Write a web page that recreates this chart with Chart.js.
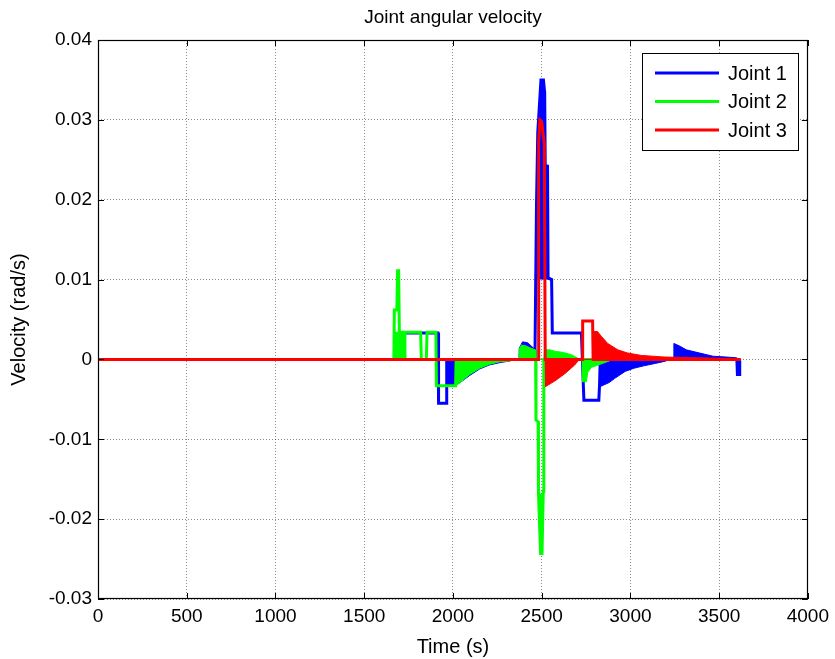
<!DOCTYPE html>
<html>
<head>
<meta charset="utf-8">
<title>Joint angular velocity</title>
<script src="https://cdn.jsdelivr.net/npm/chart.js@4.4.1/dist/chart.umd.min.js"></script>
<style>
  html, body { margin: 0; padding: 0; background: #fff; }
</style>
</head>
<body>
<canvas id="velocityChart" width="835" height="659"></canvas>
<script>
// axis ticks
const timeTicks = [0, 500, 1000, 1500, 2000, 2500, 3000, 3500, 4000];
const velocityTicks = [-0.03, -0.02, -0.01, 0, 0.01, 0.02, 0.03, 0.04];

const chartTitle = 'Joint angular velocity';
const seriesNames = ['Joint 1', 'Joint 2', 'Joint 3'];
const seriesColors = ['#0000ff', '#00ff00', '#ff0000'];

// main traces, [time (s), velocity (rad/s)]
const joint1Trace = [
  [0, 0], [1698, 0], [1700, 0.0033], [1916, 0.0033], [1919, -0.0055], [1962, -0.0055],
  [1965, 0], [2462, 0], [2466, 0.0088], [2471, 0.0195], [2478, 0.0284], [2496, 0.0350],
  [2510, 0.0350], [2517, 0.0334], [2520, 0.0243], [2533, 0.0242], [2536, 0.0102],
  [2556, 0.0100], [2560, 0.0033], [2724, 0.0033], [2738, -0.0051], [2822, -0.0051],
  [2826, -0.0033], [2830, 0], [3600, 0], [3603, -0.0019], [3613, -0.0019], [3616, 0]
];
const joint2Trace = [
  [0, 0], [1667, 0], [1670, 0.0062], [1684, 0.0062], [1688, 0.0111], [1694, 0.0111],
  [1698, 0.0034], [1818, 0.0034], [1822, 0], [1850, 0], [1854, 0.0034], [1904, 0.0034],
  [1907, -0.0033], [2015, -0.0033], [2018, 0], [2466, 0], [2468, -0.0076], [2480, -0.0078],
  [2482, -0.0168], [2494, -0.0243], [2502, -0.0243], [2509, -0.0165], [2511, -0.0158],
  [2513, 0], [3620, 0]
];
const joint3Trace = [
  [0, 0], [2480, 0], [2483, 0.0272], [2490, 0.0300], [2500, 0.0298], [2515, 0.0270],
  [2520, 0], [2729, 0], [2731, 0.0048], [2787, 0.0048], [2790, 0], [3620, 0]
];

// envelopes of the fast oscillation, filled down to zero
const joint1Band = [
  [1965, 0], [1966, -0.0033], [2010, -0.0033], [2040, -0.0029], [2095, -0.0020],
  [2150, -0.0012], [2205, -0.0007], [2265, -0.0004], [2320, -0.0002], [2350, 0],
  [2372, 0], [2374, 0.0014], [2392, 0.0022], [2420, 0.0021], [2450, 0.0015], [2465, 0.0012], [2467, 0],
  [2828, 0], [2830, -0.0034], [2880, -0.0029], [2910, -0.0024], [2970, -0.0015], [3020, -0.0011],
  [3075, -0.0008], [3140, -0.0005], [3200, -0.0002], [3215, 0],
  [3243, 0], [3245, 0.0020], [3275, 0.0017], [3315, 0.0012], [3390, 0.0008], [3465, 0.0004],
  [3540, 0.0003], [3598, 0.0002], [3600, 0]
];
const joint2Band = [
  [1667, 0], [1669, 0.0034], [1732, 0.0034], [1734, 0],
  [2015, 0], [2016, -0.0033], [2040, -0.0029], [2094, -0.0019], [2151, -0.0011],
  [2207, -0.0006], [2263, -0.0003], [2320, -0.0002], [2348, 0],
  [2372, 0], [2374, 0.0013], [2386, 0.0018], [2410, 0.0017], [2440, 0.0014], [2465, 0.0012], [2467, 0],
  [2513, 0], [2516, 0.0012], [2545, 0.0012], [2580, 0.0010], [2615, 0.0009], [2667, 0.0006],
  [2700, 0.0002], [2714, 0],
  [2728, 0], [2730, -0.0028], [2752, -0.0028], [2760, -0.0016], [2780, -0.0010],
  [2830, -0.0006], [2880, -0.0002], [2900, 0]
];
const joint3Band = [
  [2520, 0], [2522, -0.0034], [2574, -0.0027], [2630, -0.0018], [2686, -0.0007], [2712, 0],
  [2790, 0], [2792, 0.0035], [2814, 0.0035], [2836, 0.0029], [2872, 0.0020], [2929, 0.0012],
  [2985, 0.0008], [3062, 0.0005], [3190, 0.0003], [3400, 0.0002], [3618, 0.0001], [3620, 0]
];

// solid cores of the two big peaks, filled to the level where they turn solid
const joint1PeakBase = 0.0100;
const joint1Peak = [
  [2467, 0.0100], [2471, 0.0195], [2478, 0.0284], [2496, 0.0350], [2510, 0.0350],
  [2517, 0.0334], [2520, 0.0243], [2533, 0.0242], [2536, 0.0100]
];
const joint2PeakBase = -0.0168;
const joint2Peak = [
  [2482, -0.0168], [2490, -0.0232], [2494, -0.0243], [2502, -0.0243], [2509, -0.0168]
];

const FONT = '"Liberation Sans", Arial, sans-serif';

const toPoints = pairs => pairs.map(([x, y]) => ({ x: x, y: y }));

function traceSet(i, pairs, order) {
  return {
    label: seriesNames[i],
    data: toPoints(pairs),
    borderColor: seriesColors[i],
    backgroundColor: seriesColors[i],
    borderWidth: 3,
    pointRadius: 0,
    tension: 0,
    fill: false,
    order: order
  };
}

function bandSet(i, pairs, order, base) {
  return {
    label: seriesNames[i] + ' band',
    data: toPoints(pairs),
    borderColor: seriesColors[i],
    backgroundColor: seriesColors[i],
    borderWidth: 1,
    pointRadius: 0,
    tension: 0,
    fill: base === undefined ? 'origin' : { value: base },
    order: order
  };
}

// title over the plot, black box round it, inward ticks and the legend box in the top right corner
const matlabFrame = {
  id: 'matlabFrame',
  afterDraw(chart) {
    const { ctx, chartArea: a, scales } = chart;
    ctx.save();

    ctx.fillStyle = '#000';
    ctx.font = '19px ' + FONT;
    ctx.textAlign = 'center';
    ctx.textBaseline = 'middle';
    ctx.fillText(chartTitle, (a.left + a.right) / 2, 18);

    ctx.strokeStyle = '#000';
    ctx.lineWidth = 1;
    ctx.beginPath();
    timeTicks.forEach(t => {
      const px = Math.round(scales.x.getPixelForValue(t)) + 0.5;
      ctx.moveTo(px, a.bottom); ctx.lineTo(px, a.bottom - 6);
      ctx.moveTo(px, a.top); ctx.lineTo(px, a.top + 6);
    });
    velocityTicks.forEach(v => {
      const py = Math.round(scales.y.getPixelForValue(v)) + 0.5;
      ctx.moveTo(a.left, py); ctx.lineTo(a.left + 6, py);
      ctx.moveTo(a.right, py); ctx.lineTo(a.right - 6, py);
    });
    ctx.stroke();
    ctx.lineWidth = 1.2;
    ctx.strokeRect(Math.round(a.left) + 0.5, Math.round(a.top) + 0.5,
      Math.round(a.width) - 1, Math.round(a.height) - 1);

    // legend
    const bx = Math.round(a.right) - 166, by = Math.round(a.top) + 13, bw = 156, bh = 97;
    ctx.fillStyle = '#fff';
    ctx.fillRect(bx, by, bw, bh);
    ctx.strokeStyle = '#000';
    ctx.lineWidth = 1;
    ctx.strokeRect(bx + 0.5, by + 0.5, bw, bh);
    ctx.font = '20px ' + FONT;
    ctx.textBaseline = 'middle';
    ctx.textAlign = 'left';
    seriesNames.forEach((name, i) => {
      const ry = by + 20 + i * 28.5;
      ctx.strokeStyle = seriesColors[i];
      ctx.lineWidth = 3;
      ctx.beginPath();
      ctx.moveTo(bx + 13, ry);
      ctx.lineTo(bx + 77, ry);
      ctx.stroke();
      ctx.fillStyle = '#000';
      ctx.fillText(name, bx + 86, ry + 1);
    });
    ctx.restore();
  }
};

const gridStyle = {
  color: 'rgba(0,0,0,0.45)',
  lineWidth: 1,
  drawTicks: false
};

new Chart(document.getElementById('velocityChart'), {
  type: 'line',
  data: {
    datasets: [
      traceSet(0, joint1Trace, 4),
      traceSet(1, joint2Trace, 2),
      traceSet(2, joint3Trace, 0),
      bandSet(0, joint1Band, 5),
      bandSet(1, joint2Band, 3),
      bandSet(2, joint3Band, 1),
      bandSet(0, joint1Peak, 5, joint1PeakBase),
      bandSet(1, joint2Peak, 3, joint2PeakBase)
    ]
  },
  plugins: [matlabFrame],
  options: {
    responsive: false,
    animation: false,
    devicePixelRatio: 1,
    layout: { padding: { left: 0, right: 27, top: 40, bottom: 0 } },
    plugins: {
      legend: { display: false },
      tooltip: { enabled: false },
      title: { display: false }
    },
    scales: {
      x: {
        type: 'linear',
        min: 0,
        max: 4000,
        afterBuildTicks: s => { s.ticks = timeTicks.map(v => ({ value: v })); },
        afterFit: s => { s.height = 60; },
        grid: Object.assign({}, gridStyle),
        border: { display: false, dash: [1, 2] },
        ticks: {
          color: '#000',
          padding: 6,
          maxRotation: 0,
          font: { family: FONT, size: 19 },
          callback: v => String(v)
        },
        title: {
          display: true,
          text: 'Time (s)',
          color: '#000',
          font: { family: FONT, size: 20 },
          padding: { top: 4, bottom: 0 }
        }
      },
      y: {
        type: 'linear',
        min: -0.03,
        max: 0.04,
        afterBuildTicks: s => { s.ticks = velocityTicks.map(v => ({ value: v })); },
        afterFit: s => { s.width = 98; },
        grid: Object.assign({}, gridStyle),
        border: { display: false, dash: [1, 2] },
        ticks: {
          color: '#000',
          padding: 6,
          font: { family: FONT, size: 19 },
          callback: v => String(parseFloat(v.toFixed(2)))
        },
        title: {
          display: true,
          text: 'Velocity (rad/s)',
          color: '#000',
          font: { family: FONT, size: 20 },
          padding: { top: 7, bottom: 0 }
        }
      }
    }
  }
});
</script>
</body>
</html>
